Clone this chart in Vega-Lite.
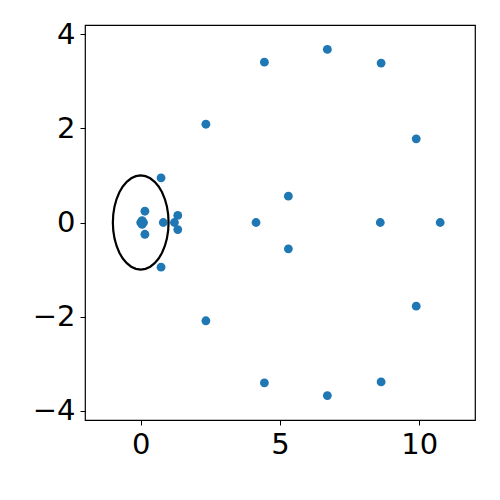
{
  "$schema": "https://vega.github.io/schema/vega-lite/v6.json",
  "autosize": "none",
  "width": 390,
  "height": 395,
  "padding": {"left": 85, "top": 25, "right": 25, "bottom": 80},
  "background": "white",
  "config": {
    "view": {"stroke": "black", "strokeWidth": 1.2},
    "axis": {
      "grid": false,
      "domain": false,
      "ticks": true,
      "tickColor": "black",
      "tickSize": 5,
      "tickWidth": 1,
      "labelColor": "black",
      "labelFont": "DejaVu Sans",
      "labelFontSize": 29,
      "labelPadding": 5,
      "title": null
    }
  },
  "datasets": {
    "pts": [
      {"re": 0.0, "im": 0.0},
      {"re": 0.1, "im": 0.0},
      {"re": 0.05, "im": 0.04},
      {"re": 0.05, "im": -0.04},
      {"re": 0.15, "im": 0.24},
      {"re": 0.15, "im": -0.25},
      {"re": 0.81, "im": 0.0},
      {"re": 1.21, "im": 0.0},
      {"re": 1.33, "im": 0.15},
      {"re": 1.33, "im": -0.15},
      {"re": 0.73, "im": 0.95},
      {"re": 0.73, "im": -0.95},
      {"re": 2.34, "im": 2.09},
      {"re": 2.34, "im": -2.09},
      {"re": 4.14, "im": 0.0},
      {"re": 5.3, "im": 0.56},
      {"re": 5.3, "im": -0.56},
      {"re": 4.44, "im": 3.41},
      {"re": 4.44, "im": -3.41},
      {"re": 6.7, "im": 3.68},
      {"re": 6.7, "im": -3.68},
      {"re": 8.63, "im": 3.39},
      {"re": 8.63, "im": -3.39},
      {"re": 8.6, "im": 0.0},
      {"re": 9.89, "im": 1.78},
      {"re": 9.89, "im": -1.78},
      {"re": 10.75, "im": 0.0}
    ],
    "circle": [
      {"k": 0, "re": 1.0, "im": 0.0},
      {"k": 1, "re": 0.985, "im": 0.174},
      {"k": 2, "re": 0.94, "im": 0.342},
      {"k": 3, "re": 0.866, "im": 0.5},
      {"k": 4, "re": 0.766, "im": 0.643},
      {"k": 5, "re": 0.643, "im": 0.766},
      {"k": 6, "re": 0.5, "im": 0.866},
      {"k": 7, "re": 0.342, "im": 0.94},
      {"k": 8, "re": 0.174, "im": 0.985},
      {"k": 9, "re": 0.0, "im": 1.0},
      {"k": 10, "re": -0.174, "im": 0.985},
      {"k": 11, "re": -0.342, "im": 0.94},
      {"k": 12, "re": -0.5, "im": 0.866},
      {"k": 13, "re": -0.643, "im": 0.766},
      {"k": 14, "re": -0.766, "im": 0.643},
      {"k": 15, "re": -0.866, "im": 0.5},
      {"k": 16, "re": -0.94, "im": 0.342},
      {"k": 17, "re": -0.985, "im": 0.174},
      {"k": 18, "re": -1.0, "im": 0.0},
      {"k": 19, "re": -0.985, "im": -0.174},
      {"k": 20, "re": -0.94, "im": -0.342},
      {"k": 21, "re": -0.866, "im": -0.5},
      {"k": 22, "re": -0.766, "im": -0.643},
      {"k": 23, "re": -0.643, "im": -0.766},
      {"k": 24, "re": -0.5, "im": -0.866},
      {"k": 25, "re": -0.342, "im": -0.94},
      {"k": 26, "re": -0.174, "im": -0.985},
      {"k": 27, "re": 0.0, "im": -1.0},
      {"k": 28, "re": 0.174, "im": -0.985},
      {"k": 29, "re": 0.342, "im": -0.94},
      {"k": 30, "re": 0.5, "im": -0.866},
      {"k": 31, "re": 0.643, "im": -0.766},
      {"k": 32, "re": 0.766, "im": -0.643},
      {"k": 33, "re": 0.866, "im": -0.5},
      {"k": 34, "re": 0.94, "im": -0.342},
      {"k": 35, "re": 0.985, "im": -0.174},
      {"k": 36, "re": 1.0, "im": 0.0}
    ]
  },
  "layer": [
    {
      "data": {"name": "pts"},
      "mark": {"type": "circle", "size": 78, "opacity": 1, "color": "#1f77b4"},
      "encoding": {
        "x": {"field": "re", "type": "quantitative", "scale": {"domain": [-2, 12], "nice": false, "zero": false}, "axis": {"values": [0, 5, 10]}},
        "y": {"field": "im", "type": "quantitative", "scale": {"domain": [-4.2, 4.2], "nice": false, "zero": false}, "axis": {"values": [-4, -2, 0, 2, 4]}}
      }
    },
    {
      "data": {"name": "circle"},
      "mark": {"type": "line", "color": "black", "strokeWidth": 2.2},
      "encoding": {
        "x": {"field": "re", "type": "quantitative"},
        "y": {"field": "im", "type": "quantitative"},
        "order": {"field": "k", "type": "quantitative"}
      }
    }
  ]
}
